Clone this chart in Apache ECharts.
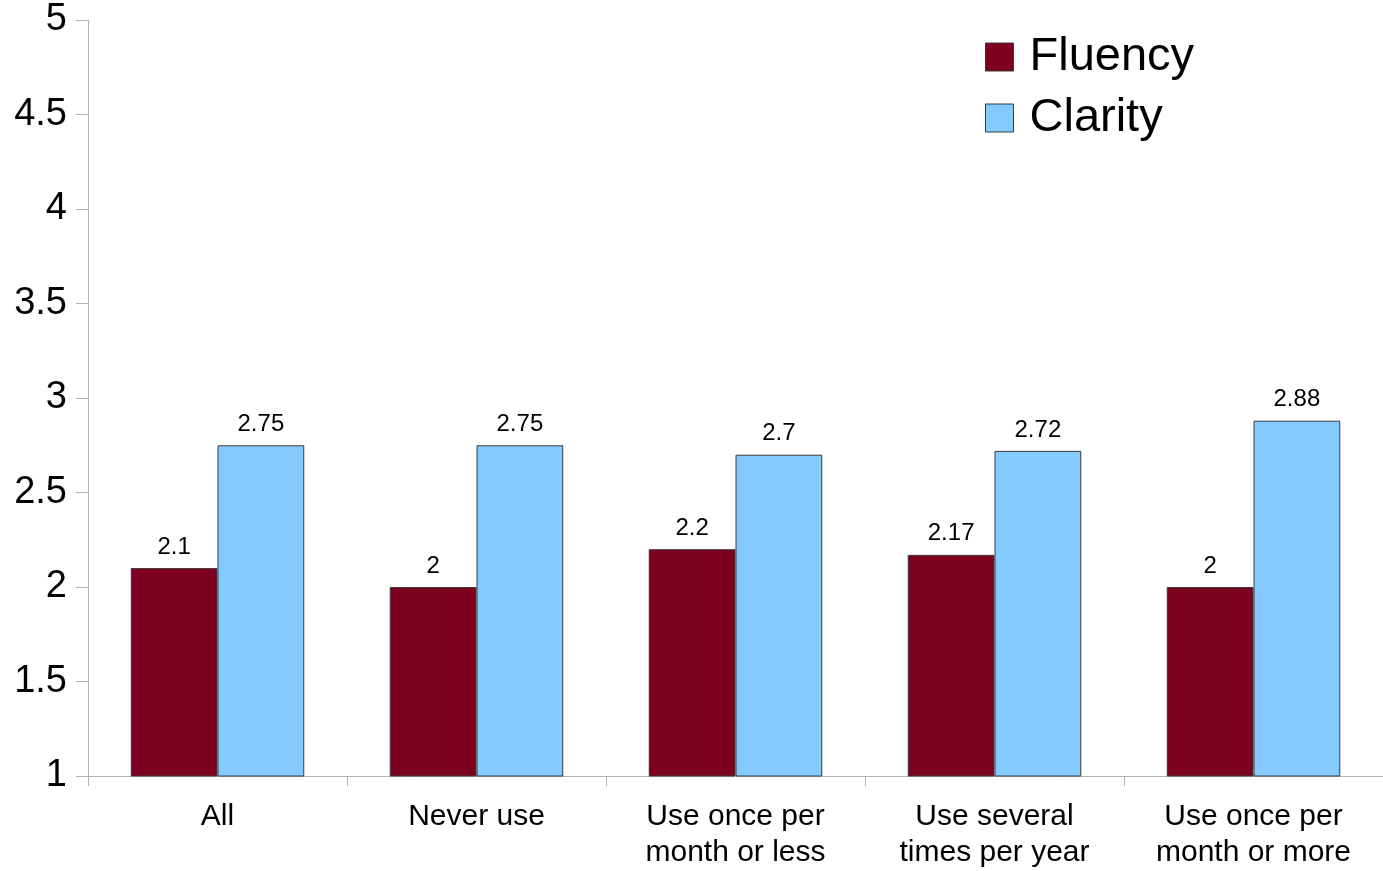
<!DOCTYPE html>
<html>
<head>
<meta charset="utf-8">
<script src="https://cdn.jsdelivr.net/npm/echarts@6/dist/echarts.min.js"></script>
<style>
  html, body { margin: 0; padding: 0; background: #fff; }
  #chart { width: 1383px; height: 871px; }
</style>
</head>
<body>
<div id="chart"></div>
<script>
// Usage groups along the x axis
var categories = ['All', 'Never use', 'Use once per\nmonth or less', 'Use several\ntimes per year', 'Use once per\nmonth or more'];
// Mean ratings per group
var fluency = [2.1, 2, 2.2, 2.17, 2];
var clarity = [2.75, 2.75, 2.7, 2.72, 2.88];
// Value axis ticks
var yMin = 1, yMax = 5, yStep = 0.5;

var font = 'Liberation Sans, Arial, sans-serif';
var axisGray = '#b3b3b3';

var chart = echarts.init(document.getElementById('chart'), null, { renderer: 'canvas' });

function barSeries(name, data, color) {
  return {
    name: name,
    type: 'bar',
    data: data,
    barGap: '0%',
    barCategoryGap: '33%',
    itemStyle: { color: color, borderColor: '#3a3a3a', borderWidth: 1 },
    label: {
      show: true,
      position: 'top',
      distance: 9,
      color: '#000',
      fontFamily: font,
      fontSize: 24
    }
  };
}

chart.setOption({
  animation: false,
  backgroundColor: '#fff',
  grid: { left: 88, right: 0, top: 20, bottom: 90, containLabel: false },
  legend: {
    orient: 'vertical',
    left: 980,
    top: 28,
    itemWidth: 28,
    itemHeight: 28,
    itemGap: 13,
    icon: 'rect',
    textStyle: { fontFamily: font, fontSize: 47, color: '#000', lineHeight: 48, padding: [0, 0, 0, 11] },
    data: [
      { name: 'Fluency', itemStyle: { borderColor: '#3a3a3a', borderWidth: 1 } },
      { name: 'Clarity', itemStyle: { borderColor: '#3a3a3a', borderWidth: 1 } }
    ]
  },
  xAxis: {
    type: 'category',
    data: categories,
    axisLine: { show: true, lineStyle: { color: axisGray, width: 1 } },
    axisTick: { show: true, length: 10, lineStyle: { color: axisGray } },
    axisLabel: {
      color: '#000',
      fontFamily: font,
      fontSize: 30,
      lineHeight: 36,
      margin: 23,
      interval: 0
    },
    splitLine: { show: false }
  },
  yAxis: {
    type: 'value',
    min: yMin,
    max: yMax,
    interval: yStep,
    axisLine: { show: true, lineStyle: { color: axisGray, width: 1 } },
    axisTick: { show: true, length: 12, lineStyle: { color: axisGray } },
    axisLabel: {
      color: '#000',
      fontFamily: font,
      fontSize: 38,
      margin: 21
    },
    splitLine: { show: false }
  },
  series: [
    barSeries('Fluency', fluency, '#7e0021'),
    barSeries('Clarity', clarity, '#83caff')
  ]
});
</script>
</body>
</html>
